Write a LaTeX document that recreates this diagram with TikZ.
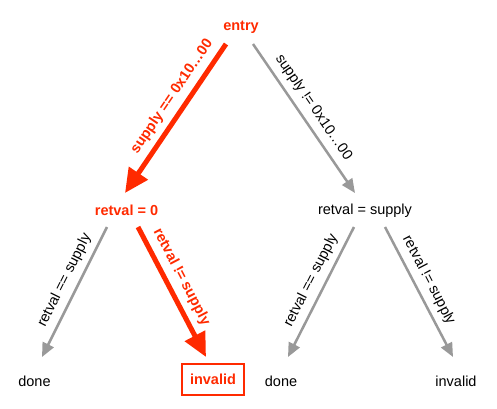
\documentclass[tikz,border=0pt]{standalone}
\usepackage{fontspec}
\setmainfont{Liberation Sans}
\usetikzlibrary{arrows.meta}
\definecolor{pathred}{HTML}{FF2A00}
\definecolor{edgegray}{HTML}{999999}

\begin{document}
\begin{tikzpicture}[x=1pt,y=-1pt,
  font=\fontsize{14.5}{17}\selectfont,
  every node/.style={inner sep=3pt},
  hot/.style={text=pathred,font=\fontsize{14.5}{17}\selectfont\bfseries},
  hotedge/.style={draw=pathred,line width=5pt,-{Triangle[length=24pt,width=22pt]}},
  coldedge/.style={draw=edgegray,line width=2.5pt,-{Triangle[length=14pt,width=12pt]}},
  cond/.style={sloped,above=3pt,pos=#1}]
  \useasboundingbox (0,0) rectangle (497,408);
  % states
  \node[hot] (entry) at (241,27) {entry};
  \node[hot] (ret0) at (126.5,210.5) {retval = 0};
  \node (retsup) at (365,211) {retval = supply};
  \node (done0) at (34.5,381) {done};
  \node[hot,draw=pathred,line width=2pt,minimum width=62pt,minimum height=31pt] (bad0) at (213,379) {invalid};
  \node (done1) at (281,381) {done};
  \node (bad1) at (456,381) {invalid};
  % branches
  \draw[hotedge] ([shift={(-15,17)}]entry.center) -- node[cond=0.41,hot] (c1) {supply == 0x10…00} ([shift={(-1.5,-17.5)}]ret0.center);
  \draw[coldedge] ([shift={(12,17)}]entry.center) -- node[cond=0.48] (c2) {supply != 0x10…00} ([shift={(-10,-18)}]retsup.center);
  \draw[coldedge] ([shift={(-19.5,16.5)}]ret0.center) -- node[cond=0.46] (c3) {retval == supply} ([shift={(7.5,-24)}]done0.center);
  \draw[hotedge] ([shift={(11.5,16.5)}]ret0.center) -- node[cond=0.44,hot] (c4) {retval != supply} ([shift={(-7,-22)}]bad0.center);
  \draw[coldedge] ([shift={(-11,16)}]retsup.center) -- node[cond=0.46] (c5) {retval == supply} ([shift={(7,-24)}]done1.center);
  \draw[coldedge] ([shift={(20,16)}]retsup.center) -- node[cond=0.46] (c6) {retval != supply} ([shift={(-3,-24)}]bad1.center);
\end{tikzpicture}
\end{document}
